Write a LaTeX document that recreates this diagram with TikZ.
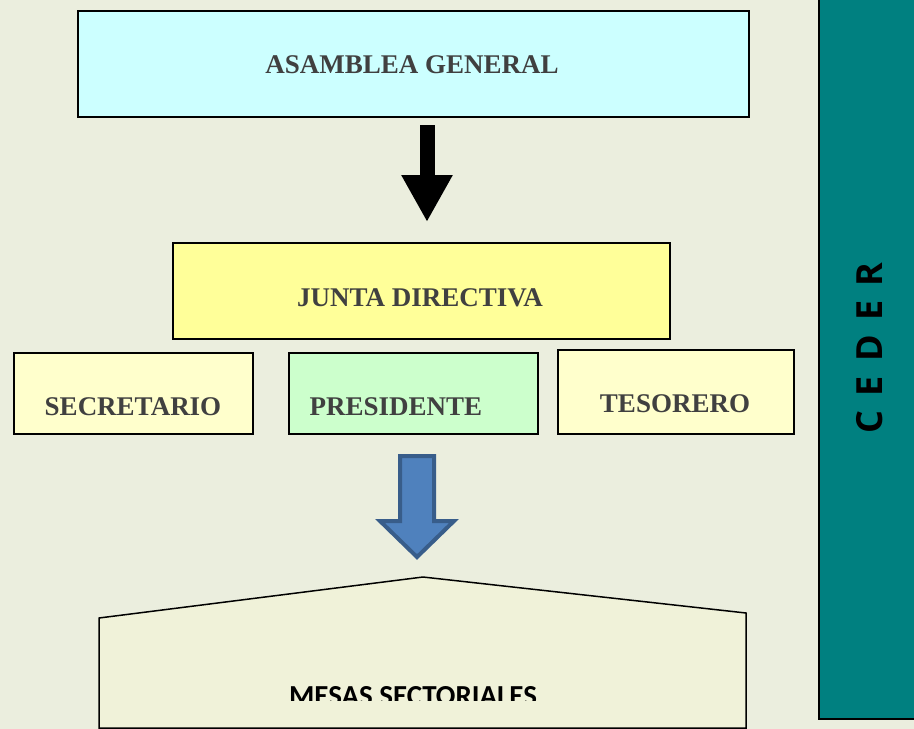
\documentclass[tikz,border=0pt]{standalone}
\usepackage{fontspec}
\setmainfont{Liberation Serif}
\newfontfamily\mesasfont{Carlito}
\newfontfamily\cederfont[LetterSpace=40]{Open Sans}
\usetikzlibrary{arrows.meta}

\definecolor{fondo}{RGB}{235,238,222}
\definecolor{cielo}{RGB}{204,255,255}
\definecolor{amarillo}{RGB}{255,255,153}
\definecolor{crema}{RGB}{255,255,204}
\definecolor{menta}{RGB}{204,255,204}
\definecolor{mesasfill}{RGB}{240,242,217}
\definecolor{verdeazul}{RGB}{0,128,128}
\definecolor{azul}{RGB}{79,129,189}
\definecolor{azulborde}{RGB}{56,93,138}
\definecolor{gristexto}{RGB}{64,64,64}

\begin{document}
\begin{tikzpicture}
  [x=1pt,y=-1pt,
   cargo/.style={draw=black,line width=1.5pt,fill=#1,inner sep=0pt,anchor=north west},
   rotulo/.style={anchor=base,text=gristexto,font=\fontsize{27}{32}\selectfont\bfseries,inner sep=0pt}]

  \useasboundingbox (0,0) rectangle (914,729);
  \fill[fondo] (0,0) rectangle (914,729);

  % cajas
  \node[cargo=cielo,minimum width=671pt,minimum height=106pt]    (asamblea)   at (77,10)  {};
  \node[cargo=amarillo,minimum width=497pt,minimum height=96pt]  (junta)      at (172,242) {};
  \node[cargo=crema,minimum width=239pt,minimum height=81pt]     (secretario) at (13,352) {};
  \node[cargo=menta,minimum width=249pt,minimum height=81pt]     (presidente) at (288,352) {};
  \node[cargo=crema,minimum width=236pt,minimum height=84pt]     (tesorero)   at (557,349) {};

  \node[rotulo] (asambleatxt)   at (412,73)  {ASAMBLEA GENERAL};
  \node[rotulo] (juntatxt)      at (420,306) {JUNTA DIRECTIVA};
  \node[rotulo] (secretariotxt) at (133,415) {SECRETARIO};
  \node[rotulo] (presidentetxt) at (396,415) {PRESIDENTE};
  \node[rotulo] (tesorerotxt)   at (675,412) {TESORERO};

  % flecha negra
  \coordinate (flechaA) at (427,125);
  \coordinate (flechaB) at (427,222);
  \draw[line width=15pt,-{Triangle[width=48pt,length=47pt]}] (flechaA) -- (flechaB);

  % flecha azul
  \coordinate (azulA) at (417,456);
  \filldraw[fill=azul,draw=azulborde,line width=4pt,line join=miter]
    (azulA) ++(-17,0) -- ++(34,0) -- ++(0,65) -- ++(20,0) -- ++(-37,36)
    -- ++(-37,-36) -- ++(20,0) -- cycle;

  % mesas sectoriales
  \filldraw[fill=mesasfill,draw=black,line width=1.5pt]
    (99,618) -- (423,577) -- (746,613) -- (746,728) -- (99,728) -- cycle;
  \begin{scope}
    \clip (99,600) rectangle (746,700);
    \node[anchor=base,inner sep=0pt,font=\mesasfont\fontsize{29}{34}\selectfont\bfseries] (mesas) at (413,705) {MESAS SECTORIALES};
  \end{scope}

  % barra lateral
  \node[draw=black,line width=1.5pt,fill=verdeazul,anchor=north west,minimum width=100pt,minimum height=722pt,inner sep=0pt] (barra) at (818,-4) {};
  \node[rotate=90,inner sep=0pt,font=\cederfont\fontsize{36}{40}\selectfont\bfseries] (ceder) at (870,348) {CEDER};
\end{tikzpicture}
\end{document}
